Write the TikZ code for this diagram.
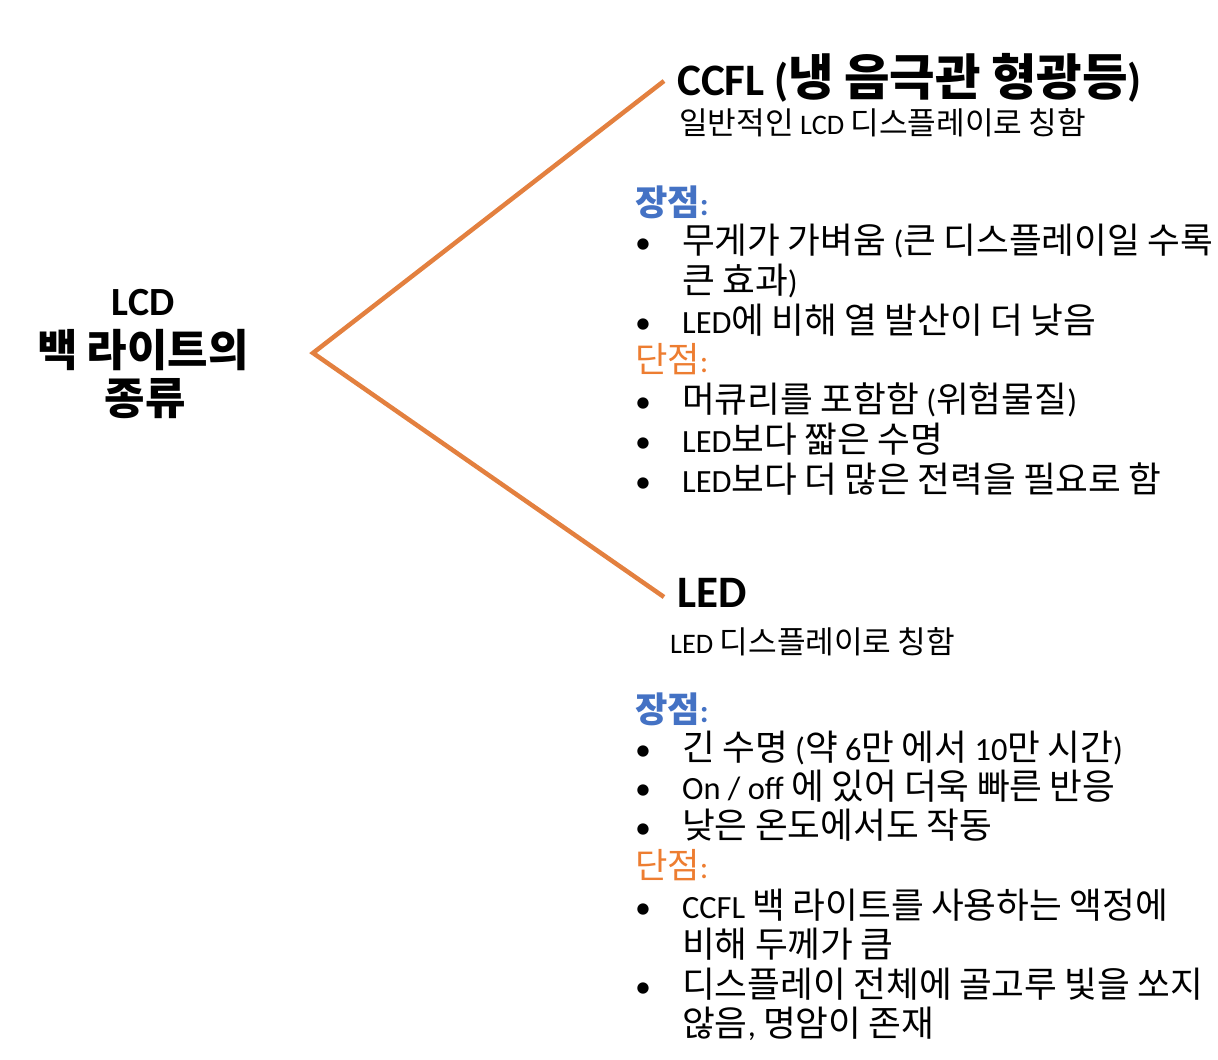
\documentclass[tikz,border=0pt]{standalone}
\usepackage{fontspec}
\setmainfont{Carlito}
\newfontfamily\krfont{Noto Sans CJK KR}[Scale=1.1]
\newXeTeXintercharclass\krclass
\count255="AC00
\loop\ifnum\count255<"D7A4 \XeTeXcharclass\count255=\krclass \advance\count255 by 1 \repeat
\XeTeXinterchartokenstate=1
\XeTeXinterchartoks 0 \krclass = {\krfont}
\XeTeXinterchartoks 4095 \krclass = {\krfont}
\XeTeXinterchartoks \krclass 0 = {\rmfamily}
\XeTeXinterchartoks \krclass 4095 = {\rmfamily}
\definecolor{branch}{HTML}{E3803F}
\definecolor{probl}{HTML}{4472C4}
\definecolor{conl}{HTML}{ED7D31}
\tikzset{
  title/.style={anchor=base, inner sep=0, font=\fontsize{40}{48}\selectfont\bfseries},
  head/.style={anchor=base west, inner sep=0, font=\fontsize{45}{52}\selectfont\bfseries},
  sub/.style={anchor=base west, inner sep=0, font=\fontsize{28.3}{34}\selectfont},
  body/.style={anchor=base west, inner sep=0, font=\fontsize{32.4}{38}\selectfont},
  bul/.style={anchor=base, inner sep=0, font=\fontsize{32}{38}\selectfont},
  pro/.style={anchor=base west, inner sep=0, text=probl, font=\fontsize{32}{38}\selectfont\bfseries},
  con/.style={anchor=base west, inner sep=0, text=conl, font=\fontsize{32}{38}\selectfont},
  branchline/.style={draw=branch, line width=4.5pt}
}
\begin{document}
\begin{tikzpicture}[x=1pt,y=-1pt]
\useasboundingbox (0,0) rectangle (1218,1060);
% left title
\node[title] (t1) at (143,315) {LCD};
\node[title] (t2) at (143,366) {백 라이트의};
\node[title] (t3) at (145,414) {종류};
% connectors
\coordinate (hub) at (313,353);
\coordinate (ccflend) at (664,81);
\coordinate (ledend) at (664,597);
\draw[branchline] (ccflend) -- (hub) -- (ledend);
% CCFL
\node[head] (ch) at (677,95) {CCFL (냉 음극관 형광등)};
\node[sub] (cs) at (679,134) {일반적인 LCD 디스플레이로 칭함};
\node[pro] (cp) at (635,215) {장점:};
\node[bul] (cb1) at (643,253) {•};
\node[body] (c1) at (682,253) {무게가 가벼움 (큰 디스플레이일 수록};
\node[body] (c1b) at (682,293) {큰 효과)};
\node[bul] (cb2) at (643,333) {•};
\node[body] (c2) at (682,333) {LED에 비해 열 발산이 더 낮음};
\node[con] (cc) at (635,372) {단점:};
\node[bul] (cb3) at (643,412) {•};
\node[body] (c3) at (682,412) {머큐리를 포함함 (위험물질)};
\node[bul] (cb4) at (643,452) {•};
\node[body] (c4) at (682,452) {LED보다 짧은 수명};
\node[bul] (cb5) at (643,492) {•};
\node[body] (c5) at (682,492) {LED보다 더 많은 전력을 필요로 함};
% LED
\node[head] (lh) at (677,607) {LED};
\node[sub] (ls) at (670,653) {LED 디스플레이로 칭함};
\node[pro] (lp) at (635,722) {장점:};
\node[bul] (lb1) at (643,760) {•};
\node[body] (l1) at (682,760) {긴 수명 (약 6만 에서 10만 시간)};
\node[bul] (lb2) at (643,799) {•};
\node[body] (l2) at (682,799) {On / off 에 있어 더욱 빠른 반응};
\node[bul] (lb3) at (643,838) {•};
\node[body] (l3) at (682,838) {낮은 온도에서도 작동};
\node[con] (lc) at (635,878) {단점:};
\node[bul] (lb4) at (643,918) {•};
\node[body] (l4) at (682,918) {CCFL 백 라이트를 사용하는 액정에};
\node[body] (l4b) at (682,957) {비해 두께가 큼};
\node[bul] (lb5) at (643,997) {•};
\node[body] (l5) at (682,997) {디스플레이 전체에 골고루 빛을 쏘지};
\node[body] (l5b) at (682,1036) {않음, 명암이 존재};
\end{tikzpicture}
\end{document}
